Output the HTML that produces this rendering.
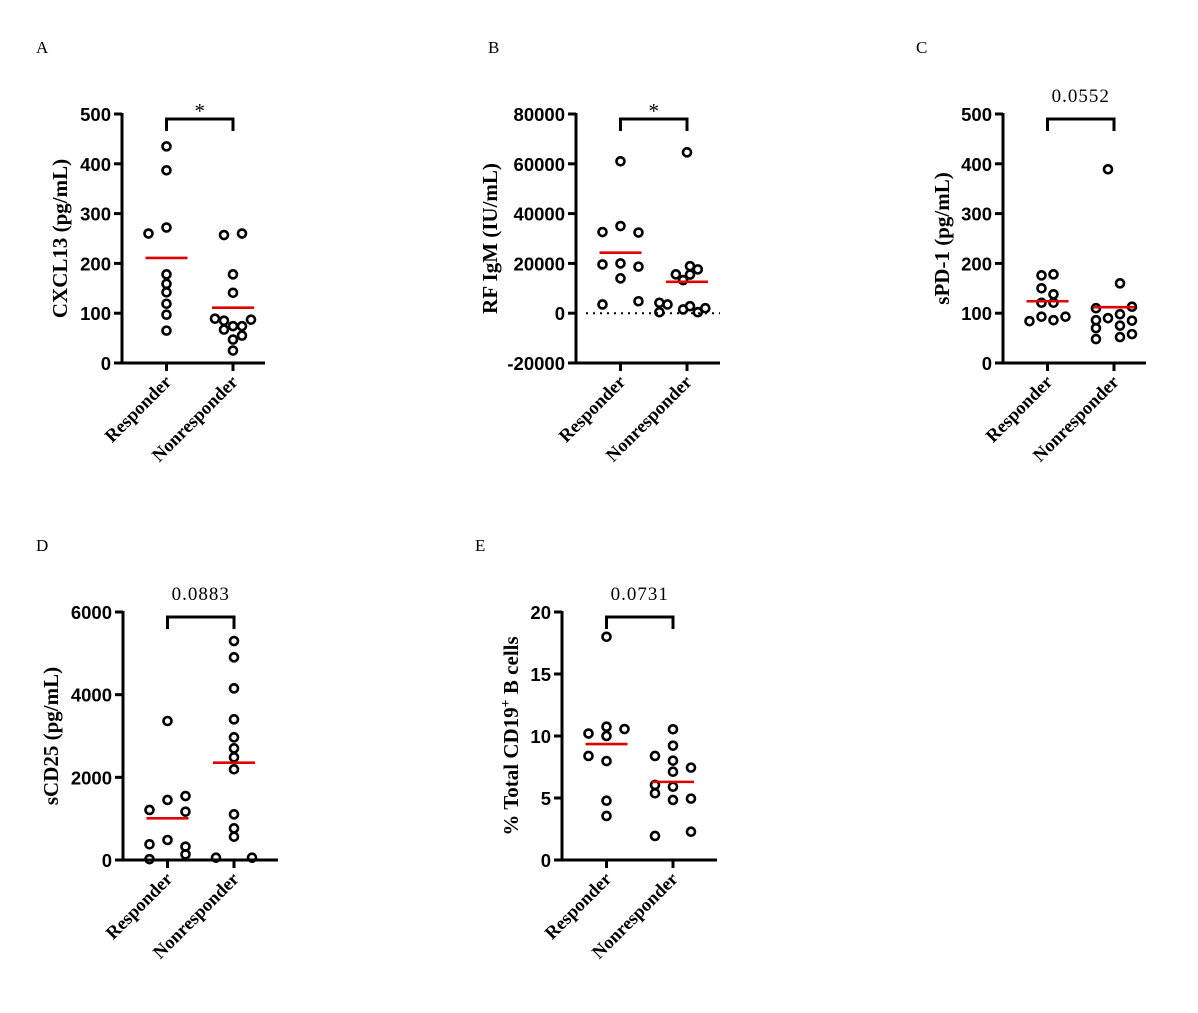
<!DOCTYPE html>
<html><head><meta charset="utf-8"><style>
body{margin:0;background:#fff}
svg{display:block}
.tick{font:bold 18.5px "Liberation Sans",sans-serif}
.ser{font-family:"Liberation Serif",serif}
</style></head><body>
<svg id="chart" width="1198" height="1013" viewBox="0 0 1198 1013"></svg>
<script>
const categories = ["Responder","Nonresponder"];
// Panel A: CXCL13
const aRespVals = [435,387,272,260,178,159,142,119,97,65];
const aRespJit  = [0,0,0,-6,0,0,0,0,0,0];
const aNonVals  = [257,260,178,141,89,85,67,74,74,87,47,55,25];
const aNonJit   = [-3,3,0,0,-6,-3,-3,0,3,6,0,3,0];
const aMeans = [211,111];
const aTicks = [0,100,200,300,400,500];
// Panel B: RF IgM
const bRespVals = [61000,32600,35000,32400,19600,20000,18700,14000,3500,4800];
const bRespJit  = [0,-6,0,6,-6,0,6,0,-6,6];
const bNonVals  = [64600,15600,13300,18900,15500,17600,4200,3500,400,1500,2800,400,2000];
const bNonJit   = [0,-3.7,-1.3,1,1,3.6,-9.2,-6.5,-9.2,-1.3,1,3.6,6.1];
const bMeans = [24300,12600];
const bTicks = [-20000,0,20000,40000,60000,80000];
// Panel C: sPD-1
const cRespVals = [176,178,150,138,121,121,84,93,86,93];
const cRespJit  = [-2,2,-2,2,-2,2,-6,-2,2,6];
const cNonVals  = [389,160,110,113,86,90,98,85,70,75,48,52,58];
const cNonJit   = [-2,2,-6,6,-6,-2,2,6,-6,2,-6,2,6];
const cMeans = [124,112];
const cTicks = [0,100,200,300,400,500];
// Panel D: sCD25
const dRespVals = [3363,1452,1548,1210,1169,380,484,323,137,20];
const dRespJit  = [0,0,6,-6,6,-6,0,6,6,-6];
const dNonVals  = [5298,4903,4153,3403,2968,2702,2484,2194,1105,766,564,56,56];
const dNonJit   = [0,0,0,0,0,0,0,0,0,0,0,-6,6];
const dMeans = [1008,2354];
const dTicks = [0,2000,4000,6000];
// Panel E: % CD19+ B cells
const eRespVals = [18.0,10.2,10.75,10.0,10.56,8.39,7.98,4.78,3.55];
const eRespJit  = [0,-6,0,0,6,-6,0,0,0];
const eNonVals  = [10.54,9.22,8.39,8.01,7.45,7.12,6.05,5.91,5.38,4.84,4.95,1.94,2.28];
const eNonJit   = [0,0,-6,0,6,0,-6,0,-6,0,6,-6,6];
const eMeans = [9.35,6.3];
const eTicks = [0,5,10,15,20];

const NS="http://www.w3.org/2000/svg";
const svg=document.getElementById('chart');
function mk(tag,attrs,parent){const e=document.createElementNS(NS,tag);for(const k in attrs)e.setAttribute(k,attrs[k]);(parent||svg).appendChild(e);return e;}

function panel(cfg){
  const g=mk('g',{});
  
  
  const min=cfg.ticks[0],max=cfg.ticks[cfg.ticks.length-1];
  const y=v=>cfg.bottom-(v-min)/(max-min)*(cfg.bottom-cfg.top);
  const xc=[cfg.ax+44.5,cfg.ax+111];
  const lane=3;
  const L=mk('text',{x:cfg.lx,y:cfg.ly,class:'ser','font-size':17},g);L.textContent=cfg.letter;
  
  
  const tcy=(cfg.top+cfg.bottom)/2;
  const T=mk('text',{x:cfg.tx,y:tcy,class:'ser','font-size':21,'font-weight':'bold','text-anchor':'middle',transform:`rotate(-90 ${cfg.tx} ${tcy})`},g);
  T.innerHTML=cfg.title;
  
  
  const ya=mk('line',{x1:cfg.ax,y1:cfg.top-1,x2:cfg.ax,y2:cfg.bottom+1.5,stroke:'#000','stroke-width':3},g);
  
  
  cfg.ticks.forEach(t=>{
    const yy=y(t);
    mk('line',{x1:cfg.ax-8,y1:yy,x2:cfg.ax,y2:yy,stroke:'#000','stroke-width':3},g);
    const tl=mk('text',{x:cfg.ax-11,y:yy+7,class:'tick','text-anchor':'end'},g);tl.textContent=t;
    
    
  });
  const xa=mk('line',{x1:cfg.ax-1.5,y1:cfg.bottom,x2:cfg.ax+cfg.xlen,y2:cfg.bottom,stroke:'#000','stroke-width':3},g);
  
  
  if(cfg.zero){
    const zl=mk('line',{x1:cfg.ax+10,y1:y(0),x2:cfg.ax+cfg.xlen,y2:y(0),stroke:'#000','stroke-width':2,'stroke-dasharray':'2 5'},g);
    
    
  }
  categories.forEach((c,i)=>{
    mk('line',{x1:xc[i],y1:cfg.bottom,x2:xc[i],y2:cfg.bottom+8,stroke:'#000','stroke-width':3},g);
    const lx=xc[i]+6,ly=cfg.bottom+20;
    const cl=mk('text',{x:lx,y:ly,class:'ser','font-size':18.5,'font-weight':'bold','text-anchor':'end',transform:`rotate(-45 ${lx} ${ly})`},g);
    cl.textContent=c;
    
    
  });
  [[cfg.rv,cfg.rj],[cfg.nv,cfg.nj]].forEach((s,i)=>{
    s[0].forEach((v,k)=>{
      const p=mk('circle',{cx:xc[i]+s[1][k]*lane,cy:y(v),r:4,fill:'none',stroke:'#000','stroke-width':2.6},g);
      
      
    });
    const m=mk('line',{x1:xc[i]-21,y1:y(cfg.means[i]),x2:xc[i]+21,y2:y(cfg.means[i]),stroke:'#e00000','stroke-width':2.6},g);
    
    
  });
  const by=cfg.top+5;
  const br=mk('path',{d:`M${xc[0]} ${by+12}V${by}H${xc[1]}V${by+12}`,fill:'none',stroke:'#000','stroke-width':3},g);
  
  
  const st=mk('text',{x:(xc[0]+xc[1])/2,y:cfg.sig==='*'?by-1:by-17,class:'ser','font-size':cfg.sig==='*'?21:19,'text-anchor':'middle','letter-spacing':cfg.sig==='*'?0:1},g);
  st.textContent=cfg.sig;
  
  
}

panel({name:'panel-a-cxcl13',letter:'A',lx:36,ly:53,tx:67,title:'CXCL13 (pg/mL)',ax:122,top:114,bottom:363,xlen:143,ticks:aTicks,rv:aRespVals,rj:aRespJit,nv:aNonVals,nj:aNonJit,means:aMeans,sig:'*'});
panel({name:'panel-b-rf-igm',letter:'B',lx:488,ly:53,tx:497,title:'RF IgM (IU/mL)',ax:576,top:114,bottom:363,xlen:144,ticks:bTicks,rv:bRespVals,rj:bRespJit,nv:bNonVals,nj:bNonJit,means:bMeans,sig:'*',zero:true});
panel({name:'panel-c-spd1',letter:'C',lx:916,ly:53,tx:949,title:'sPD-1 (pg/mL)',ax:1003,top:114,bottom:363,xlen:143,ticks:cTicks,rv:cRespVals,rj:cRespJit,nv:cNonVals,nj:cNonJit,means:cMeans,sig:'0.0552'});
panel({name:'panel-d-scd25',letter:'D',lx:36,ly:551,tx:58,title:'sCD25 (pg/mL)',ax:123,top:612,bottom:860,xlen:155,ticks:dTicks,rv:dRespVals,rj:dRespJit,nv:dNonVals,nj:dNonJit,means:dMeans,sig:'0.0883'});
panel({name:'panel-e-cd19',letter:'E',lx:475,ly:551,tx:518,title:'% Total CD19<tspan dy="-8" font-size="14">+</tspan><tspan dy="8"> B cells</tspan>',ax:562,top:612,bottom:860,xlen:155,ticks:eTicks,rv:eRespVals,rj:eRespJit,nv:eNonVals,nj:eNonJit,means:eMeans,sig:'0.0731'});
</script>
</body></html>
